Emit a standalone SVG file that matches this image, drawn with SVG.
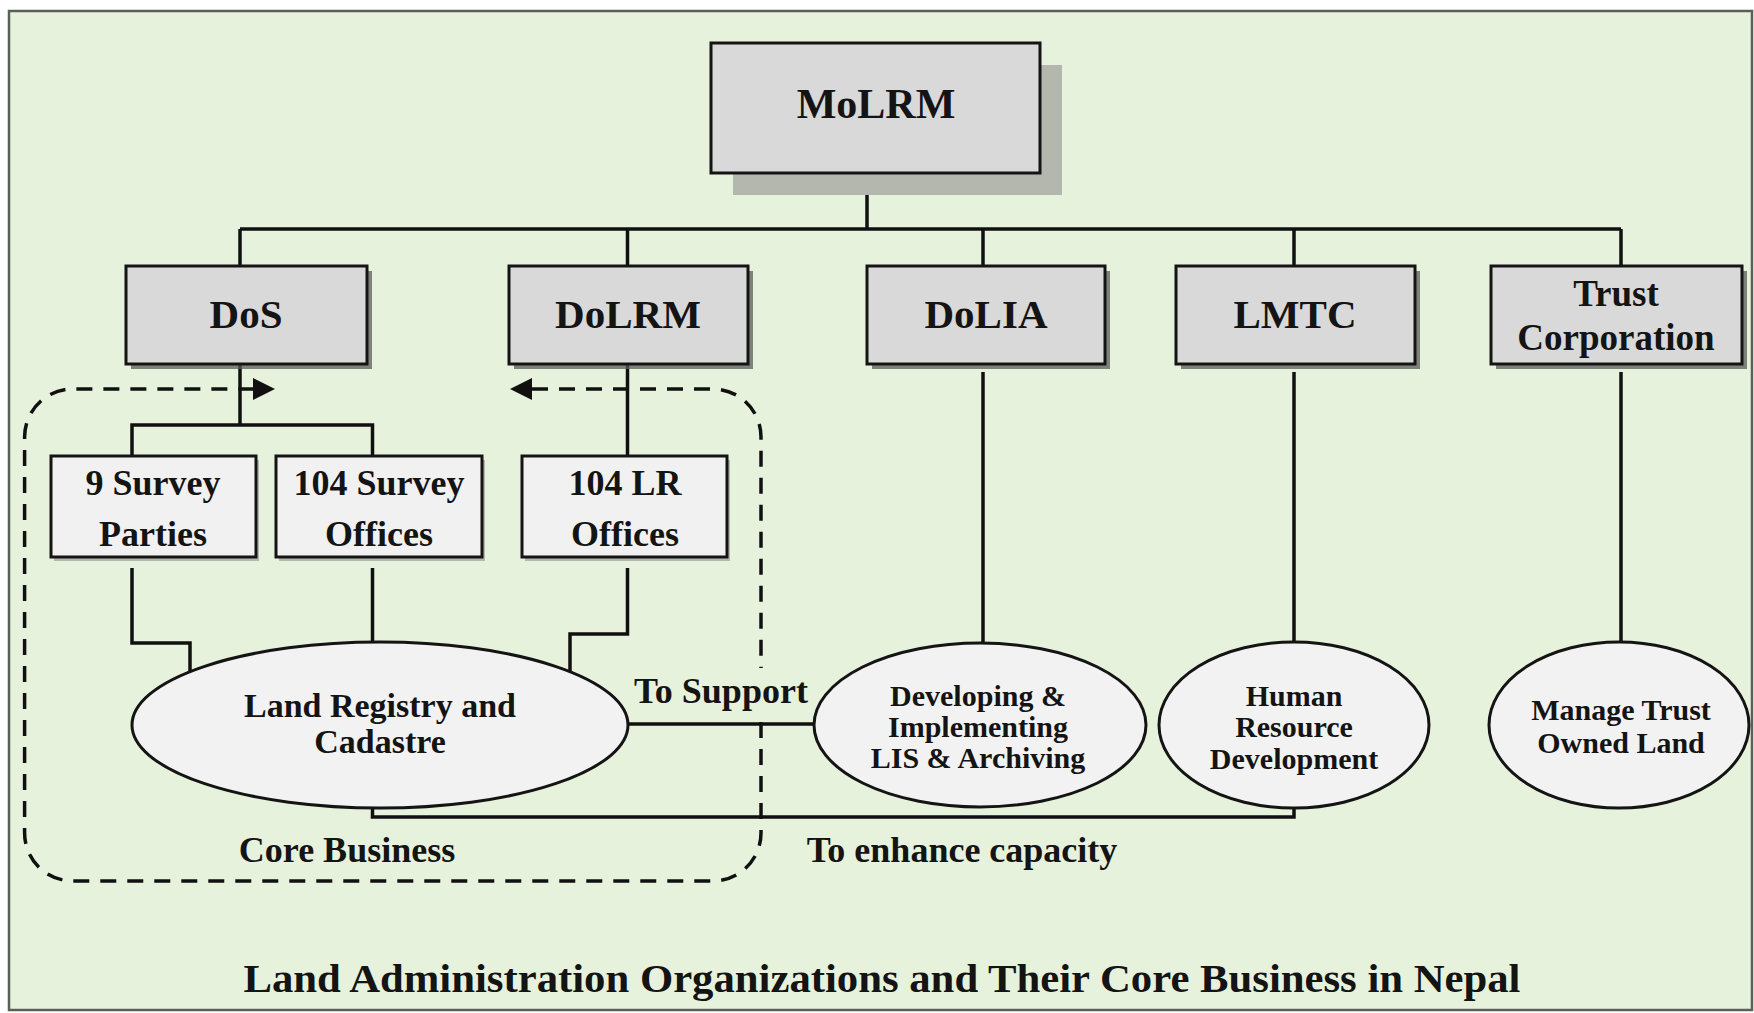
<svg xmlns="http://www.w3.org/2000/svg" width="1754" height="1013" viewBox="0 0 1754 1013">
<style>
.t{font-family:"Liberation Serif","Times New Roman",serif;font-weight:bold;fill:#141414;text-anchor:middle}
.box{fill:#d9d9d9;stroke:#141414;stroke-width:3}
.wbox{fill:#f1f1f1;stroke:#141414;stroke-width:3}
.ell{fill:#f2f2f2;stroke:#141414;stroke-width:3}
.sh{fill:#5a5d58;opacity:0.75}
.lsh{fill:#b3b7ae}
.ln{fill:none;stroke:#101010;stroke-width:3.5}
.dash{fill:none;stroke:#101010;stroke-width:3.5;stroke-dasharray:16 11}
</style>
<defs>
<marker id="arr" viewBox="0 0 10 10" refX="0" refY="5" markerWidth="22" markerHeight="22" markerUnits="userSpaceOnUse" orient="auto-start-reverse">
<path d="M0,0 L10,5 L0,10 z" fill="#101010"/>
</marker>
</defs>
<rect x="9" y="11" width="1743" height="999" fill="#e7f2dc" stroke="#5a5f58" stroke-width="2.5"/>

<g id="connectors">
<path class="ln" d="M867 173 V229 M240 229 H1621 M240 229 V266 M627.5 229 V266 M983 229 V266 M1294 229 V266 M1621 229 V266"/>
<path class="ln" d="M240 364 V425 M132 456 V425 H372.5 V456 M627.5 364 V456"/>
<path class="ln" d="M132 568 V643 H190 V672 M372.5 568 V643 M627.5 568 V634 H570 V672"/>
<path class="ln" d="M983 372 V643 M1294 372 V643 M1621 372 V643"/>
<path class="ln" d="M628 724 H814"/>
<path class="ln" d="M372.5 808 V817 H1294 V808"/>
<path class="dash" marker-start="url(#arr)" marker-end="url(#arr)" d="M532 389 H713 A48 48 0 0 1 761 437 V668 M761 722 V833 A48 48 0 0 1 713 881 H72.6 A48 48 0 0 1 24.6 833 V437 A48 48 0 0 1 72.6 389 H253"/>
</g>

<g id="MoLRM">
<rect class="lsh" x="733" y="65" width="329" height="130"/>
<rect class="box" x="711" y="43" width="329" height="130"/>
<text class="t" x="876" y="118" font-size="42">MoLRM</text>
</g>

<g id="DoS">
<rect class="sh" x="131" y="271" width="241" height="98"/>
<rect class="box" x="126" y="266" width="241" height="98"/>
<text class="t" x="246" y="328" font-size="41">DoS</text>
</g>
<g id="DoLRM">
<rect class="sh" x="514" y="271" width="239" height="98"/>
<rect class="box" x="509" y="266" width="239" height="98"/>
<text class="t" x="628" y="328" font-size="41">DoLRM</text>
</g>
<g id="DoLIA">
<rect class="sh" x="872" y="271" width="238" height="98"/>
<rect class="box" x="867" y="266" width="238" height="98"/>
<text class="t" x="986" y="328" font-size="41">DoLIA</text>
</g>
<g id="LMTC">
<rect class="sh" x="1181" y="271" width="239" height="98"/>
<rect class="box" x="1176" y="266" width="239" height="98"/>
<text class="t" x="1295" y="328" font-size="41">LMTC</text>
</g>
<g id="Trust">
<rect class="sh" x="1496" y="271" width="251" height="98"/>
<rect class="box" x="1491" y="266" width="251" height="98"/>
<text class="t" x="1616" y="306" font-size="37">Trust</text>
<text class="t" x="1616" y="350" font-size="37">Corporation</text>
</g>

<g id="SurveyParties">
<rect class="lsh" x="54" y="460" width="205" height="101"/>
<rect class="wbox" x="51" y="456" width="205" height="101"/>
<text class="t" x="153" y="495" font-size="36">9 Survey</text>
<text class="t" x="153" y="546" font-size="36">Parties</text>
</g>
<g id="SurveyOffices">
<rect class="lsh" x="279" y="460" width="206" height="101"/>
<rect class="wbox" x="276" y="456" width="206" height="101"/>
<text class="t" x="379" y="495" font-size="36">104 Survey</text>
<text class="t" x="379" y="546" font-size="36">Offices</text>
</g>
<g id="LROffices">
<rect class="lsh" x="525" y="460" width="205" height="101"/>
<rect class="wbox" x="522" y="456" width="205" height="101"/>
<text class="t" x="625" y="495" font-size="36">104 LR</text>
<text class="t" x="625" y="546" font-size="36">Offices</text>
</g>

<g id="LandRegistry">
<ellipse class="ell" cx="380" cy="725" rx="248" ry="83"/>
<text class="t" x="380" y="717" font-size="34">Land Registry and</text>
<text class="t" x="380" y="753" font-size="34">Cadastre</text>
</g>
<g id="LIS">
<ellipse class="ell" cx="980" cy="725" rx="166" ry="82"/>
<text class="t" x="978" y="706" font-size="30">Developing &amp;</text>
<text class="t" x="978" y="737" font-size="30">Implementing</text>
<text class="t" x="978" y="768" font-size="30">LIS &amp; Archiving</text>
</g>
<g id="HRD">
<ellipse class="ell" cx="1294" cy="725" rx="135" ry="83"/>
<text class="t" x="1294" y="706" font-size="30">Human</text>
<text class="t" x="1294" y="737" font-size="30">Resource</text>
<text class="t" x="1294" y="769" font-size="30">Development</text>
</g>
<g id="TrustLand">
<ellipse class="ell" cx="1619" cy="725" rx="130" ry="83"/>
<text class="t" x="1621" y="720" font-size="30">Manage Trust</text>
<text class="t" x="1621" y="753" font-size="30">Owned Land</text>
</g>

<text class="t" x="721" y="703" font-size="36">To Support</text>
<text class="t" x="347" y="862" font-size="36">Core Business</text>
<text class="t" x="962" y="862" font-size="36">To enhance capacity</text>
<text class="t" x="882" y="992" font-size="40" textLength="1277" lengthAdjust="spacingAndGlyphs">Land Administration Organizations and Their Core Business in Nepal</text>
</svg>
